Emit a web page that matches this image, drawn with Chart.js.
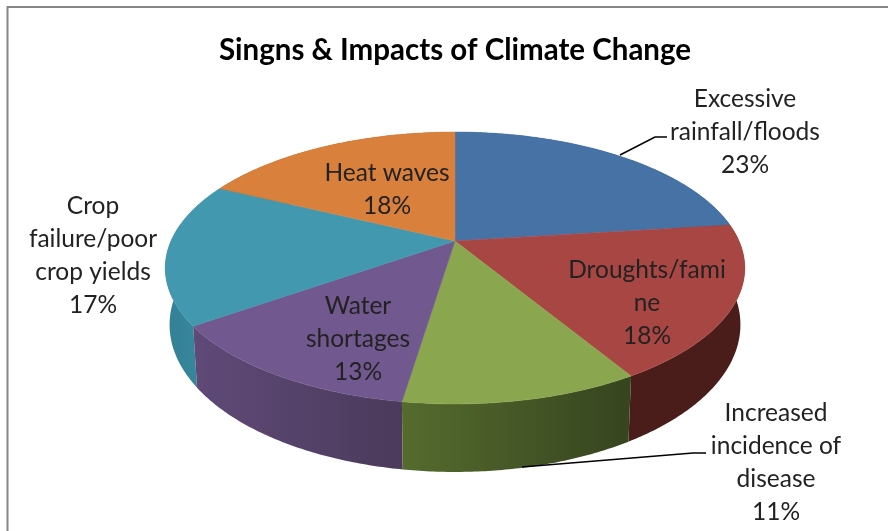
<!DOCTYPE html>
<html><head><meta charset="utf-8">
<style>html,body{margin:0;padding:0;background:#fff}canvas{display:block}</style>
<script src="https://cdn.jsdelivr.net/npm/chart.js@4"></script>
</head><body><canvas id="c" width="888" height="531"></canvas>
<script>
const chartTitle = "Singns & Impacts of Climate Change";
const categories = ["Excessive rainfall/floods","Droughts/famine","Increased incidence of disease","Water shortages","Crop failure/poor crop yields","Heat waves"];
const values = [23,18.4,11,12.8,17,17.8];
const labelLines = [["Excessive","rainfall/floods"],["Droughts/fami","ne"],["Increased","incidence of","disease"],["Water","shortages"],["Crop","failure/poor","crop yields"],["Heat waves"]];
const topColors = ["#4672a6","#a84643","#8aa64e","#71588f","#4298af","#d9813c"];
const sideLeft = ["#2c4868","#4a1c1a","#556b2e","#5f4a78","#338095","#8a5226"];
const sideRight = ["#2c4868","#4a1c1a","#36441f","#4b3a5b","#388ba1","#8a5226"];
// layout of the picture (not data)
const labelAnchors = [[745,99],[647,270],[776,413],[358,306],[93,206],[387,173]];
const lineGap = 33;
const leaders = [[[620,155],[655,137],[667,137]],[[522,467],[693,453],[706,453]]];
const P = {cx:455, cy:241, c:284, b:130.6, p:0.1985, depth:54.5, shrink:0.985};
function proj(a){const u=Math.cos(a),v=Math.sin(a),w=1-P.p*v;
  return {x:P.cx+P.c*u/w, y:P.cy+P.b*v/w, d:P.depth/w, v};}
const pie3d = {
  id:"pie3d",
  beforeDatasetDraw(chart,args){
    const ctx=chart.ctx, els=chart.getDatasetMeta(args.index).data;
    const walls=els.map((el,i)=>{
      const n=Math.ceil((el.endAngle-el.startAngle)/0.01),pts=[];
      for(let k=0;k<=n;k++)pts.push(proj(el.startAngle+(el.endAngle-el.startAngle)*k/n));
      return {i,pts,mean:pts.reduce((s,p)=>s+p.v,0)/pts.length};
    }).sort((a,b)=>a.mean-b.mean);
    ctx.save();
    walls.forEach(w=>{
      const xs=w.pts.map(p=>p.x),g=ctx.createLinearGradient(Math.min(...xs),0,Math.max(...xs),0);
      g.addColorStop(0,sideLeft[w.i]);g.addColorStop(1,sideRight[w.i]);
      ctx.beginPath();
      w.pts.forEach((p,k)=>k?ctx.lineTo(p.x,p.y):ctx.moveTo(p.x,p.y));
      for(let k=w.pts.length-1;k>=0;k--){const p=w.pts[k];ctx.lineTo(P.cx+(p.x-P.cx)*P.shrink,p.y+p.d);}
      ctx.closePath();ctx.fillStyle=g;ctx.fill();
    });
    els.forEach((el,i)=>{
      ctx.beginPath();ctx.moveTo(P.cx,P.cy);
      const n=Math.ceil((el.endAngle-el.startAngle)/0.01);
      for(let k=0;k<=n;k++){const p=proj(el.startAngle+(el.endAngle-el.startAngle)*k/n);ctx.lineTo(p.x,p.y);}
      ctx.closePath();ctx.fillStyle=topColors[i];ctx.strokeStyle=topColors[i];ctx.lineWidth=.5;ctx.fill();ctx.stroke();
    });
    ctx.restore();
    return false;
  },
  afterDraw(chart){
    const ctx=chart.ctx,total=values.reduce((a,b)=>a+b,0);
    ctx.save();
    ctx.strokeStyle="#868686";ctx.lineWidth=2;
    ctx.beginPath();ctx.moveTo(7.5,531);ctx.lineTo(7.5,7);ctx.lineTo(888,7);ctx.stroke();
    ctx.strokeStyle="#000";ctx.lineWidth=1.5;
    leaders.forEach(l=>{ctx.beginPath();l.forEach((p,i)=>i?ctx.lineTo(p[0],p[1]):ctx.moveTo(p[0],p[1]));ctx.stroke();});
    ctx.font='24.5px Lato';ctx.fillStyle="#222";ctx.textAlign="center";ctx.textBaseline="middle";
    labelLines.forEach((lines,i)=>{
      const all=lines.concat([Math.round(values[i]/total*100)+"%"]);
      all.forEach((t,j)=>ctx.fillText(t,labelAnchors[i][0],labelAnchors[i][1]+j*lineGap));
    });
    ctx.restore();
  }
};
new Chart(document.getElementById("c"),{
  type:"pie",
  data:{labels:categories,datasets:[{data:values,backgroundColor:topColors,borderWidth:0}]},
  options:{responsive:false,animation:false,devicePixelRatio:1,
    layout:{padding:{left:22,top:0}},
    plugins:{legend:{display:false},tooltip:{enabled:false},
      title:{display:true,text:chartTitle,color:"#000",font:{family:"Lato",size:29.5,weight:"bold"},padding:{top:33,bottom:10}}}},
  plugins:[pie3d]
});
</script></body></html>
